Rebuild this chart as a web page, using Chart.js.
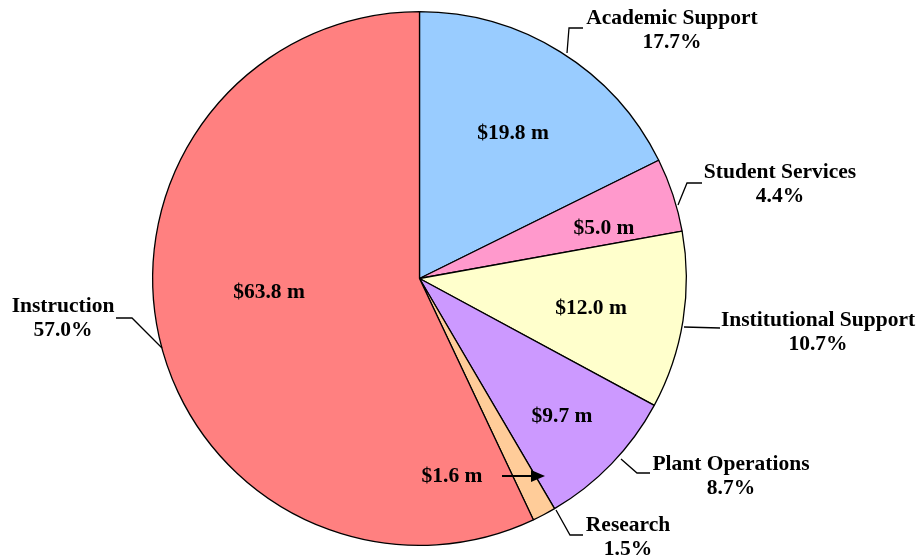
<!DOCTYPE html>
<html>
<head>
<meta charset="utf-8">
<script src="https://cdn.jsdelivr.net/npm/chart.js@4/dist/chart.umd.min.js"></script>
<style>
html,body{margin:0;padding:0;background:#fff;}
#wrap{width:918px;height:558px;}
</style>
</head>
<body>
<div id="wrap"><canvas id="c" width="918" height="558"></canvas></div>
<script>
const categories = ["Academic Support","Student Services","Institutional Support","Plant Operations","Research","Instruction"];
const amounts = [19.8, 5.0, 12.0, 9.7, 1.6, 63.8];
const percentLabels = ["17.7%","4.4%","10.7%","8.7%","1.5%","57.0%"];
const colors = ["#99CCFF","#FF99CC","#FFFFCC","#CC99FF","#FFCC99","#FF8080"];

const FONT = 'bold 21.5px "Liberation Serif", "Times New Roman", serif';

// label layout (text baselines and leader polylines)
const outerLabels = [
  {x:672, y:24,  line:[[567,53],[569,28],[583,28]]},
  {x:780, y:178, line:[[678,205],[687,183],[702,183]]},
  {x:818, y:326, line:[[684,327],[720,328]]},
  {x:731, y:470, line:[[621,459],[637,473],[650,473]]},
  {x:628, y:531, line:[[556,510],[570,535],[583,535]]},
  {x:63,  y:312, line:[[162,348],[132,318],[116,318]]}
];
const innerLabels = [
  {x:513,y:139},{x:604,y:234},{x:591,y:314},{x:562,y:422},{x:452,y:482},{x:269,y:298}
];

const labelPlugin = {
  id:'labels',
  afterDraw(chart){
    const ctx = chart.ctx;
    ctx.save();
    ctx.font = FONT;
    ctx.fillStyle = '#000';
    ctx.strokeStyle = '#000';
    ctx.lineWidth = 1.3;
    ctx.textAlign = 'center';
    ctx.textBaseline = 'alphabetic';
    categories.forEach((c,i)=>{
      const o = outerLabels[i];
      ctx.beginPath();
      o.line.forEach((p,k)=> k? ctx.lineTo(p[0],p[1]) : ctx.moveTo(p[0],p[1]));
      ctx.stroke();
      ctx.fillText(c, o.x, o.y);
      ctx.fillText(percentLabels[i], o.x, o.y+24);
      const n = innerLabels[i];
      ctx.fillText('$'+amounts[i].toFixed(1)+' m', n.x, n.y);
    });
    // arrow for research
    ctx.lineWidth = 2;
    ctx.beginPath();
    ctx.moveTo(502,476); ctx.lineTo(533,476); ctx.stroke();
    ctx.beginPath();
    ctx.moveTo(545,476); ctx.lineTo(531,470); ctx.lineTo(531,482); ctx.closePath(); ctx.fill();
    ctx.restore();
  }
};

new Chart(document.getElementById('c'), {
  type:'pie',
  data:{
    labels: categories,
    datasets:[{
      data: amounts,
      backgroundColor: colors,
      borderColor:'#000',
      borderWidth:1.3,
      borderAlign:'center'
    }]
  },
  options:{
    responsive:false,
    animation:false,
    rotation:0,
    layout:{padding:{left:0,right:79,top:11,bottom:12}},
    plugins:{legend:{display:false},tooltip:{enabled:false}}
  },
  plugins:[labelPlugin]
});
</script>
</body>
</html>
